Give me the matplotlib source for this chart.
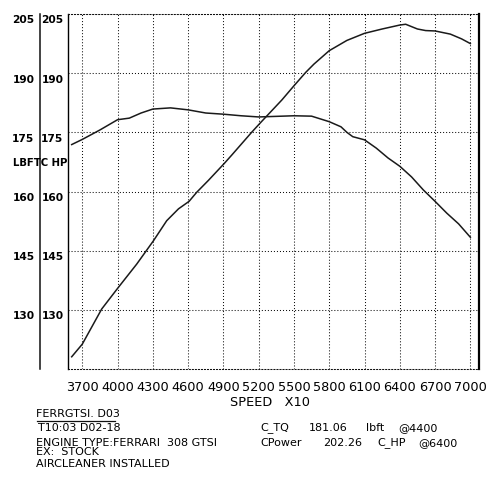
import matplotlib
matplotlib.use("Agg")
import matplotlib.pyplot as plt
from matplotlib.lines import Line2D
from matplotlib.transforms import ScaledTranslation, blended_transform_factory

# ---- data ----
hp_rpm = [3610, 3700, 3865, 4007, 4163, 4305, 4418, 4518, 4608, 4673, 4772, 4904,
          4970, 5140, 5214, 5397, 5500, 5600, 5670, 5800, 5950, 6100, 6250, 6400,
          6450, 6550, 6620, 6700, 6830, 6925, 7000]
hp_val = [118.1, 121.3, 130.2, 135.7, 141.6, 147.5, 152.6, 155.6, 157.5, 159.8, 162.8, 167.0,
          169.2, 175.0, 177.4, 183.2, 186.8, 190.2, 192.3, 195.7, 198.3, 200.1, 201.2, 202.2,
          202.4, 201.2, 200.8, 200.7, 199.9, 198.7, 197.5]

tq_rpm = [3610, 3700, 3850, 4000, 4100, 4200, 4300, 4450, 4600, 4750, 4900, 5050, 5200,
          5500, 5650, 5800, 5900, 5950, 6000, 6100, 6200, 6300, 6400, 6500, 6600, 6700,
          6800, 6900, 7000]
tq_val = [171.9, 173.2, 175.6, 178.2, 178.6, 179.9, 180.9, 181.2, 180.7, 179.9, 179.6, 179.2, 178.9,
          179.2, 179.1, 177.7, 176.4, 175.0, 173.9, 173.1, 171.0, 168.5, 166.4, 163.7, 160.4, 157.5,
          154.5, 151.8, 148.4]

x_ticks = [3700, 4000, 4300, 4600, 4900, 5200, 5500, 5800, 6100, 6400, 6700, 7000]
y_ticks = [130, 145, 160, 175, 190, 205]
y_labels = ["130", "145", "160", "175", "190", "205"]

x_label = "SPEED   X10"
y_title = "LBFTC HP"
info_left = ["T10:03 D02-18", "ENGINE TYPE:FERRARI  308 GTSI", "EX:  STOCK", "AIRCLEANER INSTALLED"]
file_name = "FERRGTSI. D03"

W, H = 500, 483
fig = plt.figure(figsize=(W / 100, H / 100), dpi=100)
fig.patch.set_facecolor("white")

def fx(px):
    return px / W

def fy(py):
    return 1 - py / H

ax = fig.add_axes([fx(67.7), fy(369), fx(478.7) - fx(67.7), fy(14) - fy(369)])
ax.set_xlim(3576, 7071)
ax.set_ylim(115, 205)

dot = (0, (1, 1.9))
gcol = "#111111"
for xv in x_ticks:
    ax.axvline(xv, color=gcol, lw=0.75, linestyle=dot, zorder=1)
for yv in y_ticks:
    ax.axhline(yv, color=gcol, lw=0.75, linestyle=dot, zorder=1)

ax.plot(hp_rpm, hp_val, color="#1a1a1a", lw=1.1, zorder=3)
ax.plot(tq_rpm, tq_val, color="#1a1a1a", lw=1.1, zorder=3)

for s in ["top", "bottom"]:
    ax.spines[s].set_linestyle(dot)
    ax.spines[s].set_linewidth(0.75)
    ax.spines[s].set_color(gcol)
ax.spines["left"].set_linewidth(1.0)
ax.spines["right"].set_linewidth(1.6)

ax.set_xticks(x_ticks)
ax.set_xticklabels([str(v) for v in x_ticks], fontsize=9.3, family="DejaVu Sans")
ax.tick_params(axis="x", length=0, pad=8.5)

yfs = 7.7
ax.set_yticks(y_ticks)
ax.set_yticklabels(y_labels, fontsize=yfs, fontweight="bold", va="center")
ax.tick_params(axis="y", length=0, pad=3)
shift = ScaledTranslation(0, -0.065, fig.dpi_scale_trans)
for lab in ax.get_yticklabels():
    lab.set_transform(lab.get_transform() + shift)

# outer label column
trans = blended_transform_factory(fig.transFigure, ax.transData) + shift
for yv, lab in zip(y_ticks, y_labels):
    ax.text(fx(34.5), yv, lab, transform=trans, ha="right", va="center",
            fontsize=yfs, fontweight="bold", clip_on=False)

# separating vertical line between label columns
fig.add_artist(Line2D([fx(39.7), fx(39.7)], [fy(13.5), fy(369)], color="#111111", lw=1.1))

fig.text(fx(13), fy(163.5), y_title, ha="left", va="center", fontsize=7.3, fontweight="bold")

ax.set_xlabel(x_label, fontsize=9.3)
ax.xaxis.set_label_coords((270 - 67.7) / 411, -(402 - 369) / 355)
ax.xaxis.label.set_va("center")

# information block
fs = 8.0
fig.text(fx(36), fy(414), file_name, ha="left", va="center", fontsize=fs)
fig.add_artist(Line2D([fx(37), fx(115)], [fy(421), fy(421)], color="#111111", lw=0.9))
left_y = [428, 443, 452, 464]
left_x = [38, 36, 36, 36]
for txt, xx, yy in zip(info_left, left_x, left_y):
    fig.text(fx(xx), fy(yy), txt, ha="left", va="center", fontsize=fs)

row1 = [("C_TQ", 260), ("181.06", 309), ("lbft", 366), ("@4400", 398)]
row2 = [("CPower", 260), ("202.26", 323), ("C_HP", 377), ("@6400", 418)]
for txt, xx in row1:
    fig.text(fx(xx), fy(428), txt, ha="left", va="center", fontsize=fs)
for txt, xx in row2:
    fig.text(fx(xx), fy(443), txt, ha="left", va="center", fontsize=fs)

fig.savefig("out.png", dpi=100, facecolor="white")
